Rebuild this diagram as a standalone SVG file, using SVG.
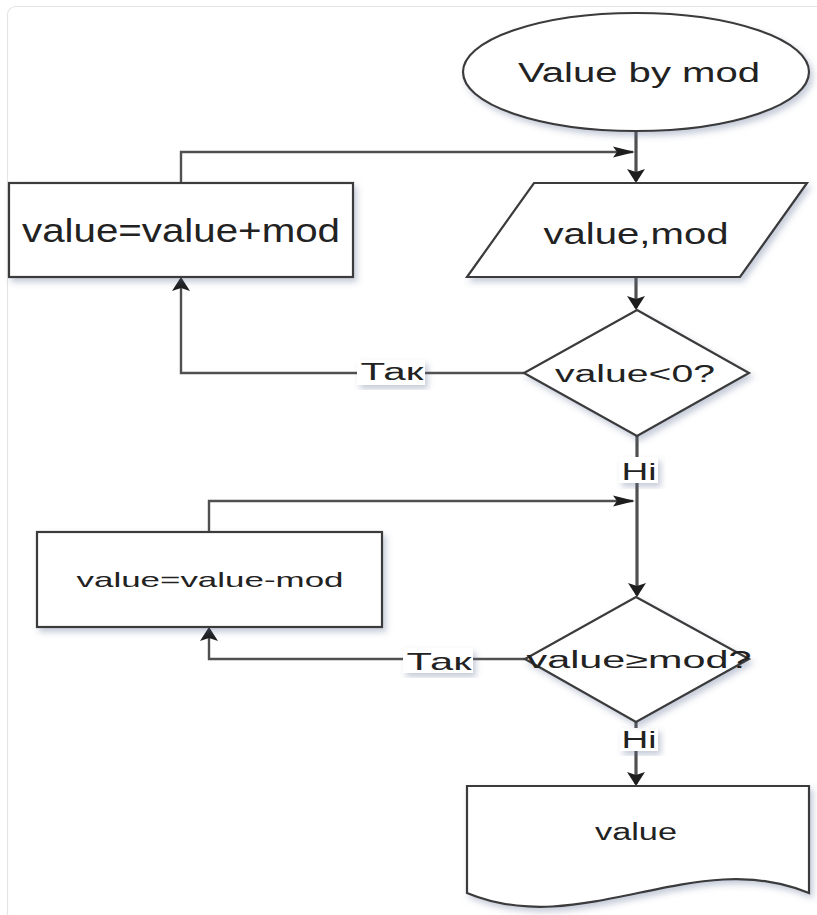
<svg xmlns="http://www.w3.org/2000/svg" width="817" height="915" viewBox="0 0 817 915">
<style>
.shape{fill:#ffffff;stroke:#3a3a3a;stroke-width:2.2;filter:url(#sh)}
.conn{fill:none;stroke:#505050;stroke-width:2.4}
.connv{fill:none;stroke:#505050;stroke-width:3.2}
.t{font-family:"Liberation Sans",Arial,Helvetica,sans-serif;fill:#222222;text-anchor:middle}
.lbl{fill:#ffffff;filter:url(#sh)}
</style>
<defs>
<filter id="sh" x="-20%" y="-20%" width="140%" height="140%">
<feDropShadow dx="3" dy="4" stdDeviation="3" flood-color="#5a6a90" flood-opacity="0.35"/>
</filter>
<marker id="av" markerUnits="userSpaceOnUse" markerWidth="20" markerHeight="22" viewBox="0 -11 14 22" refX="12" refY="0" orient="auto">
<path d="M0,-9 L14,0 L0,9 L3,0 Z" fill="#1e1e1e"/>
</marker>
<marker id="ah" markerUnits="userSpaceOnUse" markerWidth="24" markerHeight="14" viewBox="0 -7 22 14" refX="20" refY="0" orient="auto">
<path d="M0,-5.5 L22,0 L0,5.5 L4,0 Z" fill="#1e1e1e"/>
</marker>
</defs>
<rect x="0" y="0" width="817" height="915" fill="#ffffff"/>
<rect x="7.5" y="6.5" width="840" height="940" rx="8" fill="#ffffff" stroke="#e4e4e4" stroke-width="1.2"/>

<g id="connectors">
<path class="connv" d="M636,131 V181" marker-end="url(#av)"/>
<path class="conn" d="M181,183 V152 H633" marker-end="url(#ah)"/>
<path class="connv" d="M636,277 V308" marker-end="url(#av)"/>
<path class="conn" d="M524,373 H181 V279" marker-end="url(#av)"/>
<path class="connv" d="M637,436 V595" marker-end="url(#av)"/>
<path class="conn" d="M209,532 V501 H633" marker-end="url(#ah)"/>
<path class="conn" d="M525,659 H209 V629" marker-end="url(#av)"/>
<path class="connv" d="M636,722 V784" marker-end="url(#av)"/>
<g id="label-yes-1">
<rect class="lbl" x="357" y="360" width="68" height="25"/>
<text class="t" x="392" y="380" font-size="23" textLength="63" lengthAdjust="spacingAndGlyphs">Так</text>
</g>
<g id="label-no-1">
<rect class="lbl" x="619" y="457" width="39" height="26"/>
<text class="t" x="639" y="480" font-size="24" textLength="35" lengthAdjust="spacingAndGlyphs">Ні</text>
</g>
<g id="label-yes-2">
<rect class="lbl" x="403" y="648" width="70" height="25"/>
<text class="t" x="439" y="670" font-size="24" textLength="65" lengthAdjust="spacingAndGlyphs">Так</text>
</g>
<g id="label-no-2">
<rect class="lbl" x="620" y="728" width="38" height="23"/>
<text class="t" x="639" y="748" font-size="23" textLength="35" lengthAdjust="spacingAndGlyphs">Ні</text>
</g>
</g>

<g id="start">
<ellipse class="shape" cx="636" cy="72" rx="173" ry="59"/>
<text class="t" x="639" y="82" font-size="27" textLength="242" lengthAdjust="spacingAndGlyphs">Value by mod</text>
</g>

<g id="add-mod">
<rect class="shape" x="9" y="183" width="344" height="94"/>
<text class="t" x="181" y="242" font-size="33" textLength="318" lengthAdjust="spacingAndGlyphs">value=value+mod</text>
</g>

<g id="input">
<polygon class="shape" points="534,183 807,183 740,277 467,277"/>
<text class="t" x="636" y="244" font-size="29" textLength="185" lengthAdjust="spacingAndGlyphs">value,mod</text>
</g>

<g id="check-negative">
<polygon class="shape" points="637,310 749,373 637,436 524,373"/>
<text class="t" x="635" y="382" font-size="23" textLength="160" lengthAdjust="spacingAndGlyphs">value&lt;0?</text>
</g>

<g id="sub-mod">
<rect class="shape" x="37" y="532" width="345" height="95"/>
<text class="t" x="210" y="587" font-size="21" textLength="267" lengthAdjust="spacingAndGlyphs">value=value-mod</text>
</g>

<g id="check-ge">
<polygon class="shape" points="636,597 749,659 636,722 525,659"/>
<text class="t" x="639" y="668" font-size="23" textLength="225" lengthAdjust="spacingAndGlyphs">value≥mod?</text>
</g>

<g id="output">
<path class="shape" d="M467,786 H809 V893 C695,845 581,941 467,893 Z"/>
<text class="t" x="636" y="840" font-size="23" textLength="82" lengthAdjust="spacingAndGlyphs">value</text>
</g>
</svg>
